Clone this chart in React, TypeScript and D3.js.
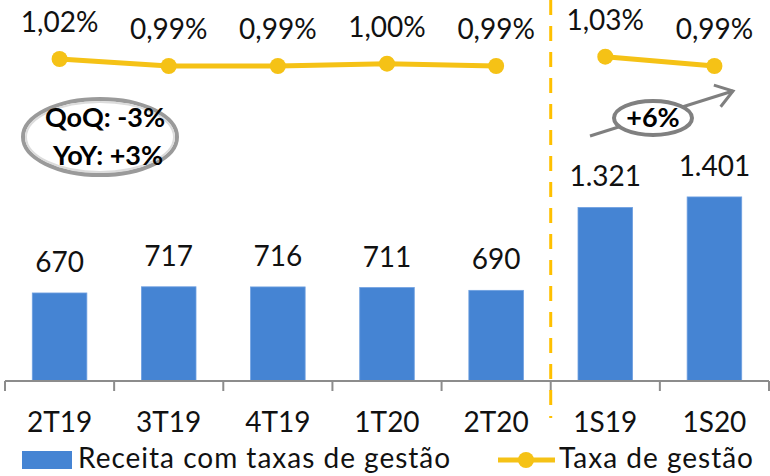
import React from "react";
import * as d3 from "d3";

const categories = ["2T19", "3T19", "4T19", "1T20", "2T20", "1S19", "1S20"];
const revenue = [670, 717, 716, 711, 690, 1321, 1401];
const feeRate = [1.02, 0.99, 0.99, 1.0, 0.99, 1.03, 0.99];
// the line is broken between quarters and semesters
const lineGroups = [
  [0, 1, 2, 3, 4],
  [5, 6],
];

const W = 770;
const H = 476;
const FONT = "Lato, 'Open Sans', sans-serif";
const BLUE = "#4584D3";
const GOLD = "#F5C216";

const ptBR = d3.formatLocale({
  decimal: ",",
  thousands: ".",
  grouping: [3],
  currency: ["R$", ""],
});
const fmtInt = ptBR.format(",d");
const fmtPct = ptBR.format(".2f");

const App = () => {
  const x = d3.scaleBand().domain(categories).range([5, 769]);
  const step = x.step();
  const barW = step * 0.5;
  const y = d3.scaleLinear().domain([0, 2900]).range([381, 0]);
  const y2 = d3.scaleLinear().domain([0.99, 1.02]).range([66, 59]);
  const cx = (c: string) => (x(c) as number) + step / 2;

  const line = d3
    .line<number>()
    .x((i) => cx(categories[i]))
    .y((i) => y2(feeRate[i]));

  const splitX = x("1S19") as number;
  const ticks = [...categories.map((c) => x(c) as number), 769];

  // arrow of the semester annotation
  const a0 = [590, 136];
  const a1 = [733, 91];
  const ang = Math.atan2(a1[1] - a0[1], a1[0] - a0[0]);
  const wing = (s: number) => [
    a1[0] - 20 * Math.cos(ang + s * 0.6),
    a1[1] - 20 * Math.sin(ang + s * 0.6),
  ];
  const w1 = wing(1);
  const w2 = wing(-1);

  return (
    <svg
      width={W}
      height={H}
      style={{ position: "absolute", left: 0, top: 0, background: "#fff" }}
      fontFamily={FONT}
    >
      {/* bars */}
      {categories.map((c, i) => (
        <g key={c}>
          <rect
            x={cx(c) - barW / 2}
            y={y(revenue[i])}
            width={barW}
            height={y(0) - y(revenue[i])}
            fill={BLUE}
            stroke="#6fa0e0"
            strokeWidth={0.8}
          />
          <text
            x={cx(c)}
            y={y(revenue[i]) - 21}
            textAnchor="middle"
            fontSize={28}
            fill="#111"
          >
            {fmtInt(revenue[i])}
          </text>
          <text x={cx(c)} y={432} textAnchor="middle" fontSize={28} fill="#111">
            {c}
          </text>
        </g>
      ))}

      {/* axis */}
      <line x1={5} x2={769} y1={381} y2={381} stroke="#8c8c8c" strokeWidth={2} />
      {ticks.map((t, i) => (
        <line key={i} x1={t} x2={t} y1={381} y2={391} stroke="#8c8c8c" strokeWidth={2} />
      ))}

      {/* split between quarters and semesters */}
      <line
        x1={splitX}
        x2={splitX}
        y1={0}
        y2={418}
        stroke="#FFC000"
        strokeWidth={3}
        strokeDasharray="15 11"
      />

      {/* fee rate line */}
      {lineGroups.map((g, k) => (
        <path key={k} d={line(g) || ""} fill="none" stroke={GOLD} strokeWidth={5} />
      ))}
      {categories.map((c, i) => (
        <g key={c}>
          <circle cx={cx(c)} cy={y2(feeRate[i])} r={8} fill={GOLD} />
          <text
            x={cx(c)}
            y={y2(feeRate[i]) - 27}
            textAnchor="middle"
            fontSize={28}
            fill="#111"
          >
            {fmtPct(feeRate[i])}%
          </text>
        </g>
      ))}

      {/* QoQ / YoY annotation */}
      <ellipse cx={100} cy={137} rx={77} ry={38} fill="#fff" stroke="#9a9a9a" strokeWidth={4} />
      <ellipse cx={100} cy={137} rx={74} ry={35} fill="none" stroke="#dcdcdc" strokeWidth={2} />
      <text x={105} y={127} textAnchor="middle" fontSize={27} fontWeight="bold" fill="#000">
        QoQ: -3%
      </text>
      <text x={108} y={165} textAnchor="middle" fontSize={27} fontWeight="bold" fill="#000">
        YoY: +3%
      </text>

      {/* semester growth annotation */}
      <line x1={a0[0]} y1={a0[1]} x2={a1[0]} y2={a1[1]} stroke="#7f7f7f" strokeWidth={3} />
      <polyline
        points={`${w1[0]},${w1[1]} ${a1[0]},${a1[1]} ${w2[0]},${w2[1]}`}
        fill="none"
        stroke="#7f7f7f"
        strokeWidth={3}
      />
      <ellipse cx={653} cy={118} rx={39} ry={17} fill="#fff" stroke="#808080" strokeWidth={4} />
      <text x={653} y={127} textAnchor="middle" fontSize={27} fontWeight="bold" fill="#000">
        +6%
      </text>

      {/* legend */}
      <rect x={22} y={451} width={50} height={18} fill={BLUE} />
      <text x={78} y={468} fontSize={28} letterSpacing={1} fill="#111">
        Receita com taxas de gestão
      </text>
      <line x1={498} x2={555} y1={460} y2={460} stroke={GOLD} strokeWidth={5} />
      <circle cx={526} cy={460} r={8} fill={GOLD} />
      <text x={559} y={468} fontSize={28} letterSpacing={1} fill="#111">
        Taxa de gestão
      </text>
    </svg>
  );
};

export default App;
